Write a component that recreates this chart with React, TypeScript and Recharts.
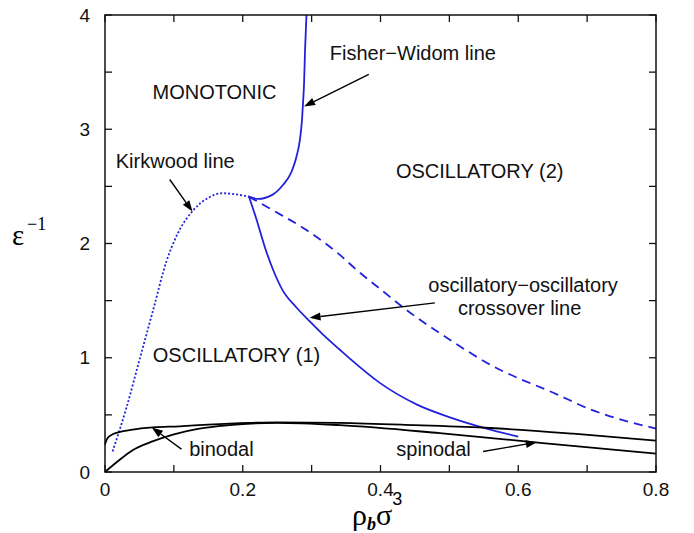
import { ComposedChart, Line, XAxis, YAxis, ReferenceLine, ReferenceDot } from 'recharts';

const FONT = '"Liberation Sans", Arial, Helvetica, sans-serif';
const SERIF = '"Liberation Serif", "Times New Roman", serif';
const BLUE = '#2222dd';
const INK = '#111';

// axis ticks
const xTicks = [0, 0.1, 0.2, 0.3, 0.4, 0.5, 0.6, 0.7, 0.8];
const yTicks = [0, 0.5, 1, 1.5, 2, 2.5, 3, 3.5, 4];
const X_MAX = 0.8;
const Y_MAX = 4;

// curves, [rho_b sigma^3, 1/epsilon]
const kirkwood: [number, number][] = [
  [0.011, 0.18], [0.031, 0.56], [0.05, 0.98], [0.07, 1.42], [0.089, 1.84],
  [0.105, 2.08], [0.128, 2.29], [0.15, 2.4], [0.171, 2.44], [0.19, 2.43], [0.209, 2.41],
];
const fisherWidom: [number, number][] = [
  [0.209, 2.41], [0.222, 2.39], [0.244, 2.43], [0.258, 2.51], [0.271, 2.63],
  [0.278, 2.76], [0.283, 2.91], [0.286, 3.08], [0.2875, 3.23], [0.289, 3.4],
  [0.2905, 3.7], [0.2925, 4.0],
];
const crossover: [number, number][] = [
  [0.209, 2.41], [0.22, 2.21], [0.232, 1.97], [0.244, 1.77], [0.258, 1.59],
  [0.278, 1.44], [0.297, 1.32], [0.317, 1.2], [0.341, 1.07], [0.356, 0.99],
  [0.399, 0.78], [0.453, 0.59], [0.505, 0.47], [0.554, 0.38], [0.6, 0.31],
];
const crossoverDashed: [number, number][] = [
  [0.209, 2.41], [0.244, 2.29], [0.292, 2.12], [0.341, 1.9], [0.367, 1.76],
  [0.4, 1.6], [0.433, 1.44], [0.5, 1.16], [0.559, 0.94], [0.656, 0.68],
  [0.704, 0.55], [0.8, 0.38],
];
const binodal: [number, number][] = [
  [0, 0.24], [0.003, 0.29], [0.011, 0.33], [0.04, 0.37], [0.07, 0.39],
  [0.108, 0.4], [0.15, 0.415], [0.21, 0.43], [0.25, 0.435], [0.341, 0.43],
  [0.45, 0.41], [0.559, 0.385], [0.68, 0.335], [0.8, 0.275],
];
const spinodal: [number, number][] = [
  [0, 0], [0.02, 0.1], [0.04, 0.19], [0.07, 0.27], [0.1, 0.33], [0.137, 0.38],
  [0.18, 0.41], [0.25, 0.43], [0.341, 0.41], [0.486, 0.34], [0.632, 0.255], [0.8, 0.16],
];

// annotations
const labelTexts = [
  'Fisher\u2212Widom line', 'MONOTONIC', 'Kirkwood line', 'OSCILLATORY (2)',
  'oscillatory\u2212oscillatory', 'crossover line', 'OSCILLATORY (1)', 'binodal', 'spinodal',
];
const labelX = [0.447, 0.159, 0.102, 0.544, 0.607, 0.602, 0.191, 0.169, 0.477];
const labelY = [3.67, 3.33, 2.72, 2.64, 1.64, 1.44, 1.03, 0.2, 0.2];

const arrowFrom: [number, number][] = [
  [0.383, 3.48], [0.094, 2.56], [0.479, 1.48], [0.111, 0.2], [0.549, 0.18],
];
const arrowTo: [number, number][] = [
  [0.289, 3.2], [0.127, 2.28], [0.297, 1.35], [0.068, 0.39], [0.627, 0.26],
];

const pts = (arr: [number, number][]) => arr.map(([x, y]) => ({ x, y }));

const isMajorX = (v: number) => Math.abs(v * 5 - Math.round(v * 5)) < 1e-6;
const fmtX = (v: number) => (isMajorX(v) ? String(Math.round(v * 10) / 10) : '');
const fmtY = (v: number) => (Number.isInteger(v) ? String(v) : '');

// chart layout
const W = 694;
const H = 533;
const MARGIN = { top: 15, right: 38, left: 0, bottom: 0 };
const Y_AXIS_W = 105;
const X_AXIS_H = 61;
const PLOT = {
  left: MARGIN.left + Y_AXIS_W,
  top: MARGIN.top,
  right: W - MARGIN.right,
  bottom: H - MARGIN.bottom - X_AXIS_H,
};
const TICK = 7;

function BottomTick(props: any) {
  const { x, y, payload } = props;
  return (
    <text x={x} y={y + 11} dy="0.71em" textAnchor="middle" fontSize={19} fontFamily={FONT} fill={INK}>
      {fmtX(payload.value)}
    </text>
  );
}

function LeftTick(props: any) {
  const { x, y, payload } = props;
  return (
    <text x={x - 15} y={y} dy="0.355em" textAnchor="end" fontSize={19} fontFamily={FONT} fill={INK}>
      {fmtY(payload.value)}
    </text>
  );
}

// box frame with inward ticks on all four sides, laid over the plot area
function Frame() {
  const sx = (v: number) => PLOT.left + (v / X_MAX) * (PLOT.right - PLOT.left);
  const sy = (v: number) => PLOT.bottom - (v / Y_MAX) * (PLOT.bottom - PLOT.top);
  return (
    <svg width={W} height={H} style={{ position: 'absolute', left: 0, top: 0, pointerEvents: 'none' }}>
      <rect x={PLOT.left} y={PLOT.top} width={PLOT.right - PLOT.left} height={PLOT.bottom - PLOT.top}
        fill="none" stroke={INK} strokeWidth={1.5} />
      {xTicks.map((v) => (
        <g key={`x${v}`} stroke={INK} strokeWidth={1.3}>
          <line x1={sx(v)} y1={PLOT.bottom} x2={sx(v)} y2={PLOT.bottom - TICK} />
          <line x1={sx(v)} y1={PLOT.top} x2={sx(v)} y2={PLOT.top + TICK} />
        </g>
      ))}
      {yTicks.map((v) => (
        <g key={`y${v}`} stroke={INK} strokeWidth={1.3}>
          <line x1={PLOT.left} y1={sy(v)} x2={PLOT.left + TICK} y2={sy(v)} />
          <line x1={PLOT.right} y1={sy(v)} x2={PLOT.right - TICK} y2={sy(v)} />
        </g>
      ))}
    </svg>
  );
}

function Arrow(props: any) {
  const { x1, y1, x2, y2 } = props;
  const a = Math.atan2(y2 - y1, x2 - x1);
  const len = 11;
  const w = 4;
  const bx = x2 - len * Math.cos(a);
  const by = y2 - len * Math.sin(a);
  const p = `${x2},${y2} ${bx + w * Math.sin(a)},${by - w * Math.cos(a)} ${bx - w * Math.sin(a)},${by + w * Math.cos(a)}`;
  return (
    <g>
      <line x1={x1} y1={y1} x2={bx} y2={by} stroke="#000" strokeWidth={1.4} />
      <polygon points={p} fill="#000" />
    </g>
  );
}

function YTitle(props: any) {
  const vb = props.viewBox;
  const cy = vb.y + vb.height / 2;
  return (
    <g>
      <text x={vb.x + 12} y={cy + 1.5} fontFamily={SERIF} fontSize={29} fill="#000">
        ε
      </text>
      <text x={vb.x + 27} y={cy - 14} fontFamily={SERIF} fontSize={18} fill="#000">
        −1
      </text>
    </g>
  );
}

function XTitle(props: any) {
  const vb = props.viewBox;
  return (
    <text x={vb.x + 247} y={vb.y + 53} fill="#000">
      <tspan fontFamily={SERIF} fontSize={30}>ρ</tspan>
      <tspan fontFamily={SERIF} fontSize={18} fontStyle="italic" fontWeight="bold" dy={5}>b</tspan>
      <tspan fontFamily={SERIF} fontSize={30} dy={-5}>σ</tspan>
      <tspan fontFamily={FONT} fontSize={18} dy={-20}>3</tspan>
    </text>
  );
}

export default function App() {
  return (
    <div style={{ position: 'absolute', left: 0, top: 0, width: W, height: H, background: '#fff' }}>
      <ComposedChart width={W} height={H} margin={MARGIN} style={{ fontFamily: FONT }}>
        <XAxis
          dataKey="x"
          type="number"
          domain={[0, X_MAX]}
          ticks={xTicks}
          interval={0}
          axisLine={false}
          tickLine={false}
          tickSize={0}
          tickMargin={0}
          height={X_AXIS_H}
          tick={(p: any) => <BottomTick {...p} />}
          label={{ content: (p: any) => <XTitle {...p} /> }}
        />
        <YAxis
          dataKey="y"
          type="number"
          domain={[0, Y_MAX]}
          ticks={yTicks}
          interval={0}
          axisLine={false}
          tickLine={false}
          tickSize={0}
          tickMargin={0}
          width={Y_AXIS_W}
          tick={(p: any) => <LeftTick {...p} />}
          label={{ content: (p: any) => <YTitle {...p} /> }}
        />

        <Line data={pts(kirkwood)} dataKey="y" type="monotone" stroke={BLUE} strokeWidth={1.8}
          strokeDasharray="2 2" dot={false} isAnimationActive={false} />
        <Line data={pts(fisherWidom)} dataKey="y" type="monotone" stroke={BLUE} strokeWidth={1.8}
          dot={false} isAnimationActive={false} />
        <Line data={pts(crossover)} dataKey="y" type="monotone" stroke={BLUE} strokeWidth={1.8}
          dot={false} isAnimationActive={false} />
        <Line data={pts(crossoverDashed)} dataKey="y" type="monotone" stroke={BLUE} strokeWidth={1.8}
          strokeDasharray="9 6" dot={false} isAnimationActive={false} />
        <Line data={pts(binodal)} dataKey="y" type="monotone" stroke="#000" strokeWidth={1.8}
          dot={false} isAnimationActive={false} />
        <Line data={pts(spinodal)} dataKey="y" type="monotone" stroke="#000" strokeWidth={1.8}
          dot={false} isAnimationActive={false} />

        {arrowFrom.map((f, i) => (
          <ReferenceLine
            key={`a${i}`}
            segment={[{ x: f[0], y: f[1] }, { x: arrowTo[i][0], y: arrowTo[i][1] }]}
            ifOverflow="visible"
            shape={(p: any) => <Arrow {...p} />}
          />
        ))}

        {labelTexts.map((t, i) => (
          <ReferenceDot
            key={`l${i}`}
            x={labelX[i]}
            y={labelY[i]}
            ifOverflow="visible"
            shape={(p: any) => (
              <text x={p.cx} y={p.cy} dy="0.36em" textAnchor="middle" fontSize={20}
                fontFamily={FONT} fill={INK}>
                {t}
              </text>
            )}
          />
        ))}
      </ComposedChart>
      <Frame />
    </div>
  );
}
